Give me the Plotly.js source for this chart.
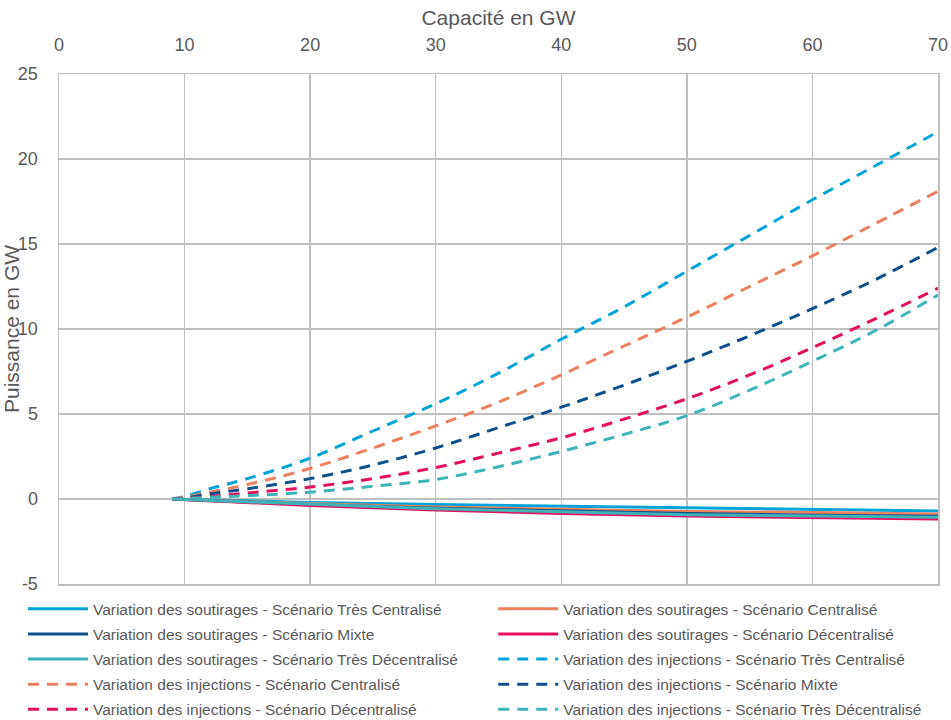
<!DOCTYPE html>
<html>
<head>
<meta charset="utf-8">
<script src="https://cdn.plot.ly/plotly-3.0.1.min.js"></script>
<style>html,body{margin:0;padding:0;background:#fff;}#chart{width:951px;height:720px;}</style>
</head>
<body>
<div id="chart"></div>
<script>
// Capacity (GW) sample points
const xInj = [9, 10, 12, 15, 20, 25, 30, 35, 40, 45, 50, 55, 60, 65, 70];
const xSout = [9, 20, 30, 40, 50, 60, 70];

// Variation des injections (GW)
const injTresCentralise = [0, 0.15, 0.6, 1.2, 2.4, 4.0, 5.6, 7.4, 9.4, 11.3, 13.4, 15.5, 17.6, 19.6, 21.6];
const injCentralise     = [0, 0.1, 0.4, 0.85, 1.8, 3.0, 4.3, 5.7, 7.3, 9.0, 10.7, 12.5, 14.3, 16.2, 18.1];
const injMixte          = [0, 0.05, 0.3, 0.6, 1.2, 2.0, 3.0, 4.2, 5.4, 6.7, 8.1, 9.6, 11.2, 12.9, 14.8];
const injDecentralise   = [0, 0.03, 0.15, 0.35, 0.7, 1.2, 1.85, 2.7, 3.6, 4.7, 5.9, 7.3, 8.9, 10.6, 12.4];
const injTresDecentralise = [0, 0.02, 0.1, 0.2, 0.4, 0.75, 1.15, 1.9, 2.8, 3.8, 4.9, 6.4, 8.1, 9.9, 12.0];

// Variation des soutirages (GW)
const soutTresCentralise = [0, -0.2, -0.33, -0.42, -0.55, -0.62, -0.7];
const soutCentralise     = [0, -0.27, -0.47, -0.6, -0.73, -0.8, -0.88];
const soutMixte          = [0, -0.33, -0.55, -0.7, -0.85, -0.95, -1.02];
const soutDecentralise   = [0, -0.38, -0.65, -0.85, -1.0, -1.1, -1.18];
const soutTresDecentralise = [0, -0.32, -0.58, -0.75, -0.92, -1.0, -1.08];

const names = [
  "Variation des soutirages - Scénario Très Centralisé",
  "Variation des soutirages - Scénario Centralisé",
  "Variation des soutirages - Scénario Mixte",
  "Variation des soutirages - Scénario Décentralisé",
  "Variation des soutirages - Scénario Très Décentralisé",
  "Variation des injections - Scénario Très Centralisé",
  "Variation des injections - Scénario Centralisé",
  "Variation des injections - Scénario Mixte",
  "Variation des injections - Scénario Décentralisé",
  "Variation des injections - Scénario Très Décentralisé"
];
const xTickVals = [0, 10, 20, 30, 40, 50, 60, 70];
const yTickVals = [-5, 0, 5, 10, 15, 20, 25];

const colors = ['#00A4D9', '#EC7F5E', '#0C4F8A', '#E2105E', '#3DB4B8'];
const soutSeries = [soutTresCentralise, soutCentralise, soutMixte, soutDecentralise, soutTresDecentralise];
const injSeries = [injTresCentralise, injCentralise, injMixte, injDecentralise, injTresDecentralise];

// legend entries fill two columns row by row (left, right, left, right, ...)
const legendFor = k => (k % 2 === 0 ? 'legend' : 'legend2');

const traces = [];
soutSeries.forEach((ys, i) => traces.push({
  x: xSout, y: ys, type: 'scatter', mode: 'lines', name: names[i],
  legend: legendFor(i), legendgroup: 'g' + i,
  line: {color: colors[i], width: 3}
}));
injSeries.forEach((ys, i) => traces.push({
  x: xInj, y: ys, type: 'scatter', mode: 'lines', name: names[5 + i],
  legend: legendFor(5 + i), legendgroup: 'g' + (5 + i),
  line: {color: colors[i], width: 3, dash: '11px,8px', shape: 'spline'}
}));

const txt = '#595959';
const grid = '#BFBFBF';
const legendBase = {
  orientation: 'v', y: -0.016, yanchor: 'top', xanchor: 'left',
  font: {size: 15.5, color: txt}, itemwidth: 60, tracegroupgap: 2,
  traceorder: 'grouped', bgcolor: 'rgba(0,0,0,0)'
};
const layout = {
  width: 951, height: 720,
  margin: {l: 59, r: 13, t: 74, b: 136, autoexpand: false},
  paper_bgcolor: '#fff', plot_bgcolor: '#fff',
  font: {family: 'Liberation Sans, Arial, sans-serif', color: txt},
  showlegend: true,
  xaxis: {
    side: 'top', range: [0, 70], tickvals: xTickVals, ticktext: xTickVals.map(String),
    showgrid: true, gridcolor: grid, gridwidth: 1.5,
    zeroline: true, zerolinecolor: grid, zerolinewidth: 1.5,
    showline: true, mirror: true, linecolor: grid, linewidth: 1.5,
    ticks: '', tickfont: {size: 18, color: txt}, ticklabelstandoff: 14,
    title: {text: 'Capacité en GW', font: {size: 21, color: txt}, standoff: 4},
    fixedrange: true
  },
  yaxis: {
    range: [-5, 25], tickvals: yTickVals, ticktext: yTickVals.map(String),
    showgrid: true, gridcolor: grid, gridwidth: 1.5,
    zeroline: true, zerolinecolor: grid, zerolinewidth: 1.5,
    showline: true, mirror: true, linecolor: grid, linewidth: 1.5,
    ticks: '', tickfont: {size: 18, color: txt}, ticklabelstandoff: 16,
    title: {text: 'Puissance en GW', font: {size: 21, color: txt}, standoff: 0},
    fixedrange: true
  },
  legend: Object.assign({}, legendBase, {x: -0.041}),
  legend2: Object.assign({}, legendBase, {x: 0.494})
};

Plotly.newPlot('chart', traces, layout, {displayModeBar: false, staticPlot: true});
</script>
</body>
</html>
